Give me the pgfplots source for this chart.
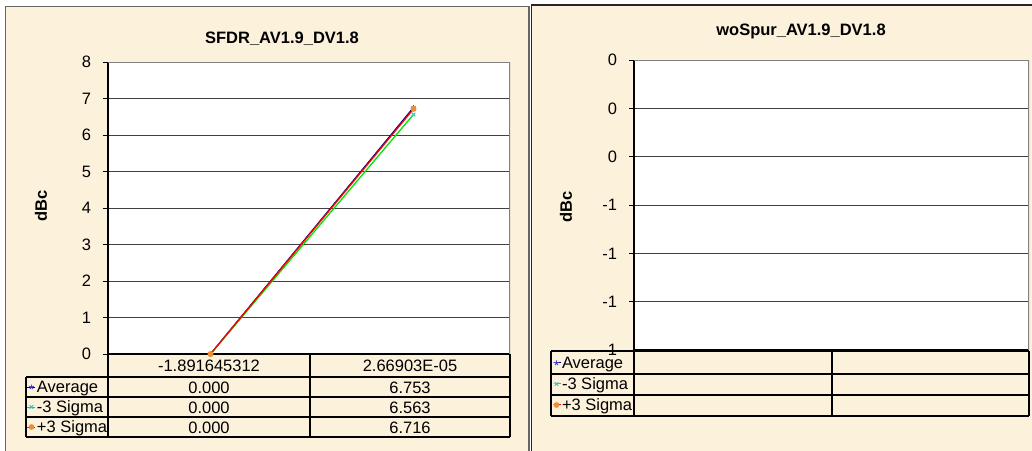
\documentclass[border=0pt]{standalone}
\usepackage{fontspec}
\setmainfont{Liberation Sans}
\usepackage{pgfplots}
\pgfplotsset{compat=1.18}
\definecolor{parch}{RGB}{252,242,220}
\definecolor{avgc}{RGB}{0,0,128}
\definecolor{avgm}{RGB}{60,60,210}
\definecolor{lowc}{RGB}{0,230,0}
\definecolor{lowm}{RGB}{51,190,204}
\definecolor{hic}{RGB}{255,0,0}
\definecolor{him}{RGB}{240,140,50}
\newcommand{\fs}{\fontsize{16.5}{19}\selectfont}
\pgfplotsset{
  excel/.style={
    scale only axis, xmin=0, xmax=2, xtick=\empty,
    axis background/.style={fill=white},
    axis x line*=bottom, axis y line*=left,
    axis line style={black, line width=1.3pt},
    ymajorgrids, grid style={black!75, line width=1pt},
    tick align=outside, major tick length=5pt,
    ytick style={black, line width=1pt},
    tick label style={font=\fs},
    yticklabel style={xshift=-8.5pt},
    /pgf/number format/assume math mode=true,
    legend cell align=left,
    legend style={anchor=north west, draw=none, fill=none, inner sep=0pt, outer sep=0pt,
      row sep=0pt, column sep=1pt, font=\fs,
      nodes={inner sep=0pt, outer sep=0pt, text height=15.5pt, text depth=4.5pt}},
    legend image code/.code={\draw[##1, line width=1pt, mark repeat=2, mark phase=2]
       plot coordinates {(0pt,0pt) (4pt,0pt) (8pt,0pt)};},
  },
  avg/.style={avgc, line width=1.3pt, mark=star, mark size=2.5pt, mark options={avgm, solid, line width=0.8pt}},
  low/.style={lowc, line width=1.3pt, mark=x, mark size=2.5pt, mark options={lowm, solid, line width=1pt}},
  high/.style={hic, line width=1.3pt, mark=*, mark size=2.3pt, mark options={him, draw=him, fill=him, solid}},
}
\begin{document}
\begin{tikzpicture}[x=1pt,y=1pt]
\useasboundingbox (0,0) rectangle (1032,450);
\clip (0,0) rectangle (1032,450);
\fill[white] (0,0) rectangle (1032,450);
\filldraw[fill=parch, draw=black!60, line width=1.5pt] (5.5,-5) rectangle (529,443.5);
\filldraw[fill=parch, draw=black!85, line width=1.5pt] (531.5,-5) rectangle (1040,445);

% ---------- left chart ----------
\begin{axis}[excel, at={(108pt,96pt)}, anchor=south west, width=402pt, height=292pt,
  ymin=0, ymax=8, ytick={0,1,...,8},
  legend style={at={(-0.2015,-0.0788)}}]
\addplot[avg] coordinates {(0.51,0) (1.52,6.753)};
\addplot[low] coordinates {(0.51,0) (1.52,6.563)};
\addplot[high] coordinates {(0.51,0) (1.52,6.716)};
\legend{Average,-3 Sigma,+3 Sigma}
\draw[black!50, line width=1.3pt] (rel axis cs:0,1) -- (rel axis cs:1,1) -- (rel axis cs:1,0);
\end{axis}

% ---------- right chart ----------
\begin{axis}[excel, at={(634pt,100pt)}, anchor=south west, width=395pt, height=290pt,
  ymin=0, ymax=6, ytick={0,1,...,6}, yticklabels={-1,-1,-1,-1,0,0,0},
  legend style={at={(-0.2076,-0.0086)}, nodes={text height=16pt, text depth=5pt}}]
\addlegendimage{avg}
\addlegendimage{low}
\addlegendimage{high}
\legend{Average,-3 Sigma,+3 Sigma}
\draw[black!50, line width=1.3pt] (rel axis cs:0,1) -- (rel axis cs:1,1) -- (rel axis cs:1,0);
\end{axis}

% ---------- left data table ----------
\begin{scope}[black, line width=1.3pt]
\foreach \yy in {73,53,33,13} {\draw (26,\yy) -- (510,\yy);}
\draw (26,73) -- (26,13);
\foreach \xx in {108,310,510} {\draw (\xx,96) -- (\xx,13);}
\end{scope}
\begin{scope}[every node/.style={font=\fs, anchor=base, inner sep=0pt}]
\node at (209,78.5) {-1.891645312};
\node at (410,78.5) {2.66903E-05};
\node at (209,57) {0.000}; \node at (410,57) {6.753};
\node at (209,37) {0.000}; \node at (410,37) {6.563};
\node at (209,17) {0.000}; \node at (410,17) {6.716};
\end{scope}

% ---------- right data table ----------
\begin{scope}[black, line width=1.3pt]
\foreach \yy in {99,76,55,34} {\draw (551,\yy) -- (1029,\yy);}
\foreach \xx in {551,634,832,1029} {\draw (\xx,99) -- (\xx,34);}
\end{scope}

% ---------- titles and axis labels ----------
\node[font=\fs\bfseries] at (282,411.5) {SFDR\_AV1.9\_DV1.8};
\node[font=\fs\bfseries] at (801,418.5) {woSpur\_AV1.9\_DV1.8};
\node[font=\fs\bfseries, rotate=90] at (41,244) {dBc};
\node[font=\fs\bfseries, rotate=90] at (566,243) {dBc};
\end{tikzpicture}
\end{document}
